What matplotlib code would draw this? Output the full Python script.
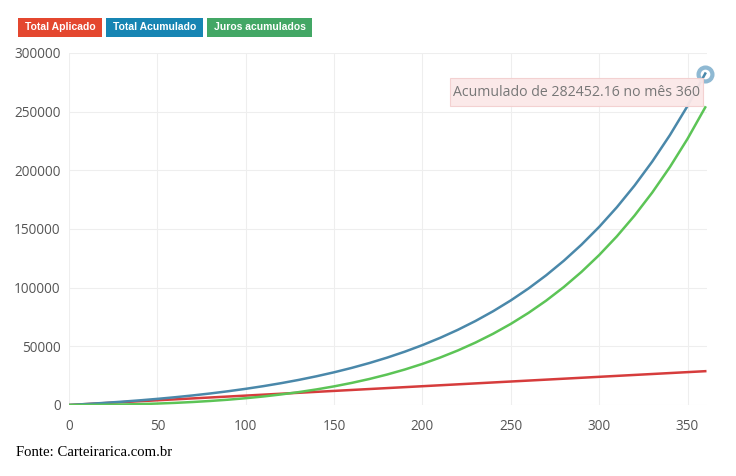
import matplotlib.pyplot as plt
from matplotlib.patches import FancyBboxPatch

# months sampled every 10 from the chart
meses = list(range(0, 361, 10))

# values
total_aplicado = [0, 800, 1600, 2400, 3200, 4000, 4800, 5600, 6400, 7200, 8000,
                  8800, 9600, 10400, 11200, 12000, 12800, 13600, 14400, 15200, 16000,
                  16800, 17600, 18400, 19200, 20000, 20800, 21600, 22400, 23200, 24000,
                  24800, 25600, 26400, 27200, 28000, 28800]
total_acumulado = [0, 845, 1780, 2810, 3950, 5210, 6600, 8135, 9830, 11705, 13775,
                   16060, 18590, 21375, 24460, 27865, 31625, 35775, 40365, 45435, 51035,
                   57220, 64050, 71595, 79930, 89140, 99310, 110545, 122955, 136665, 151810,
                   168540, 187015, 207430, 229975, 254880, 282452]
juros_acumulados = [0, 45, 180, 410, 750, 1210, 1800, 2535, 3430, 4505, 5775,
                    7260, 8990, 10975, 13260, 15865, 18825, 22175, 25965, 30235, 35035,
                    40420, 46450, 53195, 60730, 69140, 78510, 88945, 100555, 113465, 127810,
                    143740, 161415, 181030, 202775, 226880, 253652]

legend_labels = ['Total Aplicado', 'Total Acumulado', 'Juros acumulados']
legend_colors = ['#e4472f', '#1785b3', '#43a765']

fig = plt.figure(figsize=(7.36, 4.76), dpi=100)
ax = fig.add_axes([0.0938, 0.1492, 0.8668, 0.7395])

ax.plot(meses, total_aplicado, color='#d63c3c', lw=1.8)
ax.plot(meses, total_acumulado, color='#4a88aa', lw=1.8)
ax.plot(meses, juros_acumulados, color='#5cc456', lw=1.8)

# highlighted last point
ax.plot([meses[-1]], [total_acumulado[-1]], 'o', ms=10, mfc='none',
        mec='#8fb9d3', mew=3, zorder=5, clip_on=False)

ax.set_xlim(0, 361)
ax.set_ylim(0, 300000)
ax.set_xticks(range(0, 351, 50))
ax.set_yticks(range(0, 300001, 50000))
ax.grid(True, color='#eeeeee', lw=0.8)
ax.set_axisbelow(True)
for s in ax.spines.values():
    s.set_visible(False)
ax.tick_params(length=0, labelsize=9.8, labelcolor='#555555')
ax.tick_params(axis='x', pad=10)
ax.tick_params(axis='y', pad=6)
for lab in ax.get_xticklabels() + ax.get_yticklabels():
    lab.set_fontfamily('Open Sans')

# tooltip
tip = FancyBboxPatch((450 / 736, 1 - 106 / 476), 253 / 736, 28 / 476, transform=fig.transFigure,
                     boxstyle='square,pad=0', fc='#fbe8e8', ec='#f3cfcf', lw=0.8,
                     alpha=0.95, zorder=6)
fig.patches.append(tip)
fig.text(576.5 / 736, 1 - 92 / 476, 'Acumulado de 282452.16 no mês 360', ha='center', va='center',
         fontsize=10.2, color='#777777', family='Open Sans', zorder=7)

# legend buttons
x0 = [18, 106, 207]
x1 = [102, 203, 312]
for lbl, col, a, b in zip(legend_labels, legend_colors, x0, x1):
    fig.patches.append(FancyBboxPatch((a / 736, 1 - 37 / 476), (b - a) / 736, 19 / 476,
                                      transform=fig.transFigure, boxstyle='square,pad=0',
                                      fc=col, ec='none'))
    fig.text((a + b) / 2 / 736, 1 - 27.5 / 476, lbl, ha='center', va='center',
             fontsize=7.5, color='white', weight='bold', family='Liberation Sans')

fig.text(16 / 736, 1 - 452 / 476, 'Fonte: Carteirarica.com.br',
         ha='left', va='center', fontsize=10.6, family='Liberation Serif', color='black')

fig.savefig('out.png', dpi=100)
